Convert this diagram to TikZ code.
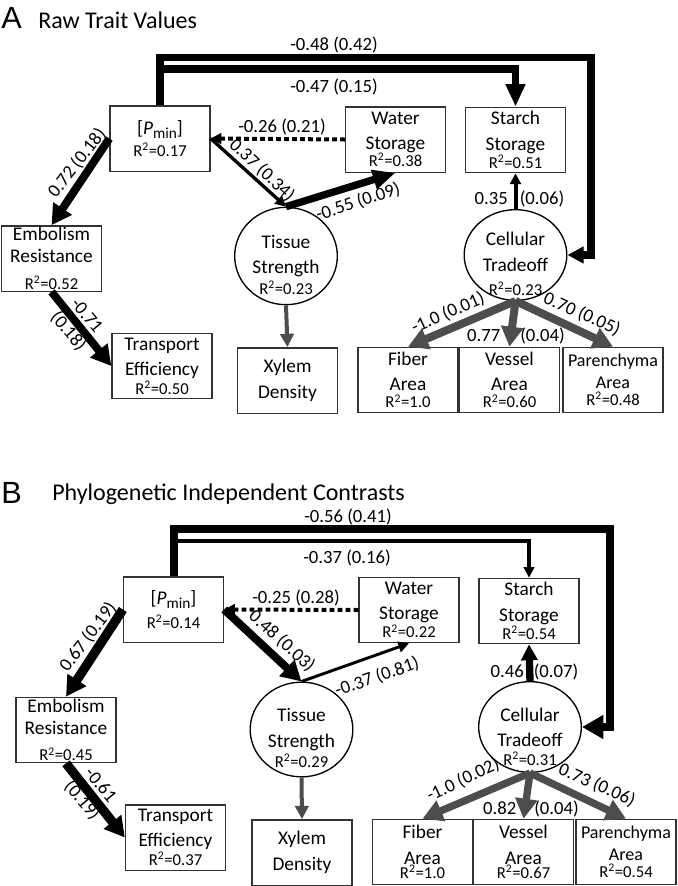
\documentclass[tikz,border=0pt]{standalone}
\usepackage{fontspec}
\setmainfont{Carlito}
\newfontfamily\panelfont{Liberation Sans}
\usetikzlibrary{arrows.meta}
\usetikzlibrary{shapes.geometric}

\definecolor{arrgrey}{RGB}{77,77,77}
\definecolor{boxgrey}{RGB}{50,50,50}
\newcommand{\rsq}[1]{{\fontsize{12.5}{13}\selectfont R\textsuperscript{2}=#1}}
\newcommand{\pmintxt}{[\textit{P}\raisebox{-3pt}{\fontsize{11.5}{11.5}\selectfont min}]}

\begin{document}
\begin{tikzpicture}[x=0.75pt,y=-0.75pt,
  every node/.style={font=\fontsize{14}{17}\selectfont},
  bx/.style={draw=boxgrey,line width=1pt,minimum width=75pt,minimum height=49pt,inner sep=1pt,align=center,font=\fontsize{14.5}{19}\selectfont},
  lat/.style={ellipse,draw,line width=1pt,minimum width=77pt,inner sep=0pt},
  lattxt/.style={align=center,inner sep=0pt,font=\fontsize{14.5}{19}\selectfont},
  ttl/.style={anchor=base west,inner sep=0pt,font=\fontsize{18}{20}\selectfont},
  pnl/.style={anchor=base west,inner sep=0pt,font=\panelfont\fontsize{23}{25}\selectfont},
  tipL/.style={-{Triangle[length=15pt,width=16pt]}},
  tipM/.style={-{Triangle[length=12pt,width=12pt]}},
  tipS/.style={-{Triangle[length=8pt,width=8pt]}},
  greyarr/.style={draw=arrgrey},
  dotline/.style={dash pattern=on 3.5pt off 2.5pt},
  ]
\useasboundingbox (0,0) rectangle (678,886);

\node[pnl] (panA) at (1,28) {A};
\node[ttl] (titA) at (38,28) {Raw Trait Values};
\node[bx] (pminA) at (160,138.5) {\pmintxt\\[-3pt]\rsq{0.17}};
\node[bx] (waterA) at (395.5,139.5) {Water\\Storage\\[-6.5pt]\rsq{0.38}};
\node[bx] (starchA) at (515.5,140) {Starch\\Storage\\[-5.5pt]\rsq{0.51}};
\node[bx] (embA) at (51.5,258.5) {Embolism\\[-2.5pt]Resistance\\[1pt]\rsq{0.52}};
\node[bx] (transA) at (162,366) {Transport\\Efficiency\\[-5pt]\rsq{0.50}};
\node[bx] (xylA) at (287.5,380.5) {Xylem\\Density};
\node[bx] (fibA) at (408,380) {Fiber\\Area\\[-6pt]\rsq{1.0}};
\node[bx] (vesA) at (509.5,380) {Vessel\\Area\\[-6pt]\rsq{0.60}};
\node[bx,font=\fontsize{13.5}{16.5}\selectfont] (parA) at (613,380) {Parenchyma\\Area\\[-4pt]\rsq{0.48}};
\node[lat,minimum height=73pt] (tisA) at (286,256) {};
\node[lattxt] (tisAtxt) at (286,265) {Tissue\\Strength\\[-3.5pt]\rsq{0.23}};
\node[lat,minimum height=68pt] (ctA) at (515.5,255) {};
\node[lattxt] (ctAtxt) at (515.5,264) {Cellular\\Tradeoff\\[-1pt]\rsq{0.23}};

\coordinate (topA) at (591,57.5);
\coordinate (midA) at (515.5,69);
\draw[line width=5.5pt,tipM] (pminA.north) |- (topA) |- (ctA.east);
\draw[line width=5.5pt,-{Triangle[length=17pt,width=14pt]}] (pminA.north) |- (midA) -- (starchA.north);
\draw[line width=6pt,tipL] (pminA.west) -- (embA.north);
\draw[line width=6pt,tipL] (embA.south) -- (transA.west);
\draw[line width=2.5pt,tipS] (pminA.east) -- (tisA.north);
\draw[line width=5.5pt,-{Triangle[length=17pt,width=14pt]}] (tisA.north) -- (waterA.south);
\draw[line width=3pt,dotline,tipS] (waterA.west) -- (pminA.east);
\draw[line width=3pt,tipS] (ctA.north) -- (starchA.south);
\draw[greyarr,line width=3pt,-{Triangle[length=10pt,width=10pt]}] (tisA.south) -- (xylA.north);
\draw[greyarr,line width=6pt,tipL] (ctA.south) -- (fibA.north);
\draw[greyarr,line width=6pt,tipL] (ctA.south) -- (vesA.north);
\draw[greyarr,line width=6pt,tipL] (ctA.south) -- (parA.north);

\node (lA1) at (334,45) {-0.48 (0.42)};
\node (lA2) at (334,87) {-0.47 (0.15)};
\node (lA3) at (282,127) {-0.26 (0.21)};
\node[rotate=-43] (lA4) at (262,170) {0.37 (0.34)};
\node[rotate=18] (lA5) at (358,202) {-0.55 (0.09)};
\node[rotate=52] (lA6) at (77,163) {0.72 (0.18)};
\node[rotate=-50,align=center] (lA7) at (77,324) {-0.71\\[1pt](0.18)};
\node (lA8) at (519.5,199) {0.35\hspace{9pt}(0.06)};
\node[rotate=24] (lA9) at (448,313) {-1.0 (0.01)};
\node (lA10) at (516,336) {0.77\hspace{15pt}(0.04)};
\node[rotate=-24] (lA11) at (582,314) {0.70 (0.05)};

\node[pnl] (panB) at (1,503) {B};
\node[ttl] (titB) at (52,500) {Phylogenetic Independent Contrasts};
\node[bx] (pminB) at (173.5,609.5) {\pmintxt\\[-1pt]\rsq{0.14}};
\node[bx] (waterB) at (409,610) {Water\\Storage\\[-5.5pt]\rsq{0.22}};
\node[bx] (starchB) at (529,611) {Starch\\Storage\\[-5.5pt]\rsq{0.54}};
\node[bx] (embB) at (66,730) {Embolism\\[-2.5pt]Resistance\\[1pt]\rsq{0.45}};
\node[bx] (transB) at (175.5,837.5) {Transport\\Efficiency\\[-5pt]\rsq{0.37}};
\node[bx] (xylB) at (302,852.5) {Xylem\\Density};
\node[bx] (fibB) at (422.5,852) {Fiber\\Area\\[-8.5pt]\rsq{1.0}};
\node[bx] (vesB) at (523.5,852) {Vessel\\Area\\[-8.5pt]\rsq{0.67}};
\node[bx,font=\fontsize{13.5}{16.5}\selectfont] (parB) at (626,852) {Parenchyma\\Area\\[-4pt]\rsq{0.54}};
\node[lat,minimum height=71pt] (tisB) at (301.5,729.5) {};
\node[lattxt] (tisBtxt) at (301.5,738) {Tissue\\Strength\\[-4pt]\rsq{0.29}};
\node[lat,minimum height=68pt] (ctB) at (530,727) {};
\node[lattxt] (ctBtxt) at (530,737) {Cellular\\Tradeoff\\[-5pt]\rsq{0.31}};

\coordinate (topB) at (610,529);
\coordinate (midB) at (529,540.5);
\draw[line width=6pt,-{Triangle[length=16pt,width=17pt]}] (pminB.north) |- (topB) |- (ctB.east);
\draw[line width=3pt,tipS] (pminB.north) |- (midB) -- (starchB.north);
\draw[line width=7pt,tipL] (pminB.west) -- (embB.north);
\draw[line width=7pt,tipL] (embB.south) -- (transB.west);
\draw[line width=6pt,tipL] (pminB.east) -- (tisB.north);
\draw[line width=2.2pt,tipS] (tisB.north) -- (waterB.south);
\draw[line width=3pt,dotline,tipS] (waterB.west) -- (pminB.east);
\draw[line width=5.5pt,tipM] (ctB.north) -- (starchB.south);
\draw[greyarr,line width=3pt,-{Triangle[length=10pt,width=10pt]}] (tisB.south) -- (xylB.north);
\draw[greyarr,line width=5.5pt,tipL] (ctB.south) -- (fibB.north);
\draw[greyarr,line width=5.5pt,tipL] (ctB.south) -- (vesB.north);
\draw[greyarr,line width=5.5pt,tipL] (ctB.south) -- (parB.north);

\node (lB1) at (348,517) {-0.56 (0.41)};
\node (lB2) at (347,558) {-0.37 (0.16)};
\node (lB3) at (296,598) {-0.25 (0.28)};
\node[rotate=-42] (lB4) at (282,641) {0.48 (0.03)};
\node[rotate=19] (lB5) at (377,677) {-0.37 (0.81)};
\node[rotate=53] (lB6) at (88,637) {0.67 (0.19)};
\node[rotate=-50,align=center] (lB7) at (91,793) {-0.61\\[1pt](0.19)};
\node (lB8) at (534.5,672) {0.46\hspace{7.5pt}(0.07)};
\node[rotate=25] (lB9) at (463,780) {-1.0 (0.02)};
\node (lB10) at (531,809) {0.82\hspace{13.5pt}(0.04)};
\node[rotate=-24] (lB11) at (597,785) {0.73 (0.06)};
\end{tikzpicture}
\end{document}
